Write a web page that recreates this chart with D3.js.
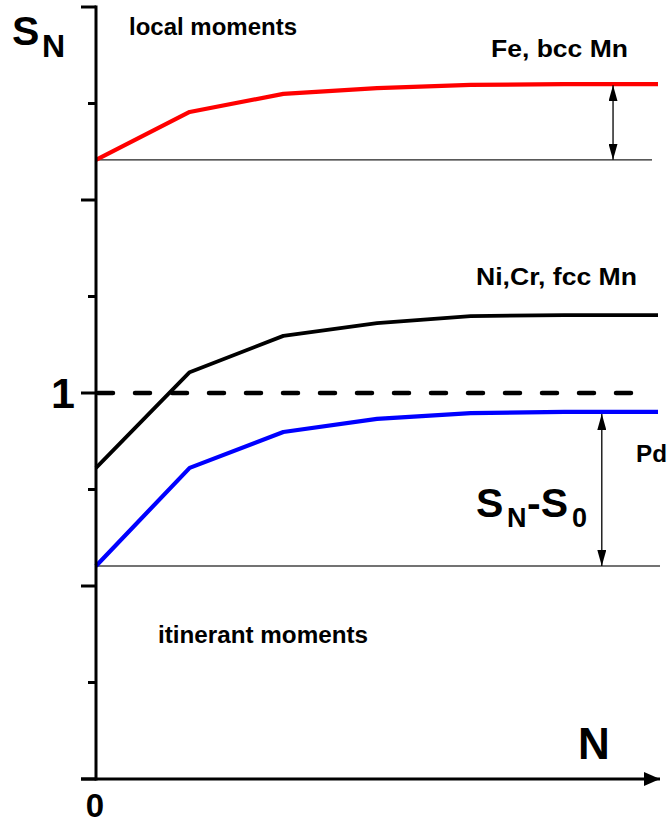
<!DOCTYPE html>
<html>
<head>
<meta charset="utf-8">
<script src="https://cdn.jsdelivr.net/npm/d3@7"></script>
<style>
  html, body { margin: 0; padding: 0; background: #fff; }
  svg { display: block; }
  text { font-family: "Liberation Sans", Arial, sans-serif; font-weight: bold; fill: #000; }
</style>
</head>
<body>
<svg id="chart" width="670" height="825"></svg>
<script>
// ---- data ----
const N = [0, 1, 2, 3, 4, 5, 6];
const localSeries = [1.604, 1.728, 1.775, 1.790, 1.798, 1.800, 1.800];   // Fe, bcc Mn (red)
const midSeries   = [0.806, 1.054, 1.148, 1.181, 1.199, 1.202, 1.202];   // Ni,Cr, fcc Mn (black)
const pdSeries    = [0.552, 0.806, 0.899, 0.933, 0.948, 0.951, 0.951];   // Pd (blue)
const yTicks = [0, 0.25, 0.5, 0.75, 1, 1.25, 1.5, 1.75, 2];
const yTickLabels = { 1: "1" };
const xTickLabels = ["0"];
const refLevel = 1;
const arrowRedN = 5.52;
const arrowBlueN = 5.40;

const svg = d3.select("#chart");
const x = d3.scaleLinear().domain([0, 6]).range([96, 658]);
const y = d3.scaleLinear().domain([0, 2]).range([779, 7]);

// markers for double arrows
const defs = svg.append("defs");
function mk(id, w, h) {
  defs.append("marker").attr("id", id)
    .attr("viewBox", `0 0 ${w} ${h}`).attr("refX", w).attr("refY", h / 2)
    .attr("markerWidth", w).attr("markerHeight", h).attr("markerUnits", "userSpaceOnUse")
    .attr("orient", "auto-start-reverse")
    .append("path").attr("d", `M0,0L${w},${h/2}L0,${h}Z`).attr("fill", "#000");
}
mk("ah", 16, 9);
mk("axh", 16, 14);

// reference thin lines (S0 levels)
svg.append("line").attr("x1", x(0)).attr("x2", 652)
  .attr("y1", y(localSeries[0])).attr("y2", y(localSeries[0]))
  .attr("stroke", "#222").attr("stroke-width", 1.2);
svg.append("line").attr("x1", x(0)).attr("x2", 660)
  .attr("y1", y(pdSeries[0])).attr("y2", y(pdSeries[0]))
  .attr("stroke", "#444").attr("stroke-width", 1.4);

// dashed reference S=1
svg.append("line").attr("x1", x(0) + 2).attr("x2", 653)
  .attr("y1", y(refLevel)).attr("y2", y(refLevel))
  .attr("stroke", "#000").attr("stroke-width", 4.5)
  .attr("stroke-dasharray", "15,22").attr("stroke-linecap", "round");

// series lines
const line = d3.line().x((d, i) => x(N[i])).y(d => y(d));
svg.append("path").datum(midSeries).attr("d", line)
  .attr("fill", "none").attr("stroke", "#000").attr("stroke-width", 3.8).attr("stroke-linejoin", "round");
svg.append("path").datum(pdSeries).attr("d", line)
  .attr("fill", "none").attr("stroke", "#0000ff").attr("stroke-width", 4.2).attr("stroke-linejoin", "round");
svg.append("path").datum(localSeries).attr("d", line)
  .attr("fill", "none").attr("stroke", "#ff0000").attr("stroke-width", 4.2).attr("stroke-linejoin", "round");

// double arrows
svg.append("line").attr("x1", x(arrowRedN)).attr("x2", x(arrowRedN))
  .attr("y1", y(localSeries[6]) + 1).attr("y2", y(localSeries[0]))
  .attr("stroke", "#000").attr("stroke-width", 1.3)
  .attr("marker-start", "url(#ah)").attr("marker-end", "url(#ah)");
svg.append("line").attr("x1", x(arrowBlueN)).attr("x2", x(arrowBlueN))
  .attr("y1", y(pdSeries[6]) + 2).attr("y2", y(pdSeries[0]))
  .attr("stroke", "#000").attr("stroke-width", 1.3)
  .attr("marker-start", "url(#ah)").attr("marker-end", "url(#ah)");

// y axis
svg.append("line").attr("x1", x(0)).attr("x2", x(0)).attr("y1", y(2) - 1.5).attr("y2", y(0) + 1.5)
  .attr("stroke", "#000").attr("stroke-width", 3);
svg.selectAll(".ytick").data(yTicks).enter().append("line")
  .attr("x1", (d, i) => i % 2 === 0 ? 81 : 88).attr("x2", x(0))
  .attr("y1", d => y(d)).attr("y2", d => y(d))
  .attr("stroke", "#000").attr("stroke-width", 3);

// x axis with arrow
svg.append("line").attr("x1", 81).attr("x2", 660).attr("y1", y(0)).attr("y2", y(0))
  .attr("stroke", "#000").attr("stroke-width", 3).attr("marker-end", "url(#axh)");

// tick labels
Object.keys(yTickLabels).forEach(k => {
  svg.append("text").attr("x", 75).attr("y", y(+k) + 15).attr("text-anchor", "end")
    .attr("font-size", 43).text(yTickLabels[k]);
});
svg.append("text").attr("x", x(0)-1).attr("y", 817).attr("text-anchor", "middle")
  .attr("font-size", 33).text(xTickLabels[0]);

// axis titles
const sn = svg.append("text");
sn.append("tspan").attr("x", 12).attr("y", 45).attr("font-size", 41).text("S");
sn.append("tspan").attr("x", 42).attr("y", 57).attr("font-size", 32).text("N");
svg.append("text").attr("x", 578).attr("y", 759).attr("font-size", 44).text("N");

// annotations
function label(txt, xx, yy, fs, w) {
  const t = svg.append("text").attr("x", xx).attr("y", yy).attr("font-size", fs).text(txt);
  if (w) t.attr("textLength", w).attr("lengthAdjust", "spacingAndGlyphs");
  return t;
}
label("local moments", 129, 35, 23.5, 168);
label("itinerant moments", 158, 643, 23.5, 210);
label("Fe, bcc Mn", 491, 57, 24, 137);
label("Ni,Cr, fcc Mn", 476, 285, 24, 161);
label("Pd", 636, 462, 24, 31);

const ds = svg.append("text");
ds.append("tspan").attr("x", 476).attr("y", 517).attr("font-size", 41).text("S");
ds.append("tspan").attr("x", 507).attr("y", 527).attr("font-size", 27).text("N");
ds.append("tspan").attr("x", 527).attr("y", 517).attr("font-size", 41).text("-S");
ds.append("tspan").attr("x", 572).attr("y", 527).attr("font-size", 27).text("0");
</script>
</body>
</html>
